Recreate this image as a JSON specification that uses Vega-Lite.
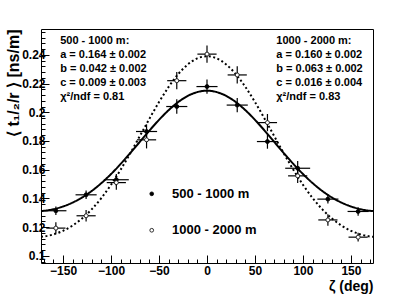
{
  "$schema": "https://vega.github.io/schema/vega-lite/v6.json",
  "width": 332,
  "height": 234,
  "autosize": {"type": "none"},
  "padding": {"left": 41, "top": 29, "right": 42, "bottom": 31},
  "background": "white",
  "config": {
    "font": "Liberation Sans",
    "view": {"stroke": "black", "strokeWidth": 1},
    "axis": {
      "grid": false, "domain": false, "tickColor": "black", "tickWidth": 1,
      "labelColor": "black", "labelFont": "Liberation Sans", "labelFontWeight": "bold", "labelFontSize": 12,
      "titleColor": "black", "titleFont": "Liberation Sans", "titleFontWeight": "bold", "titleFontSize": 14
    }
  },
  "datasets": {
    "curves": [
      {"fit": "500 - 1000 m", "zeta": -173, "val": 0.131179},
      {"fit": "500 - 1000 m", "zeta": -170, "val": 0.131367},
      {"fit": "500 - 1000 m", "zeta": -160, "val": 0.13248},
      {"fit": "500 - 1000 m", "zeta": -150, "val": 0.134377},
      {"fit": "500 - 1000 m", "zeta": -140, "val": 0.137107},
      {"fit": "500 - 1000 m", "zeta": -130, "val": 0.140722},
      {"fit": "500 - 1000 m", "zeta": -120, "val": 0.14525},
      {"fit": "500 - 1000 m", "zeta": -110, "val": 0.150688},
      {"fit": "500 - 1000 m", "zeta": -100, "val": 0.156978},
      {"fit": "500 - 1000 m", "zeta": -90, "val": 0.164},
      {"fit": "500 - 1000 m", "zeta": -80, "val": 0.171564},
      {"fit": "500 - 1000 m", "zeta": -70, "val": 0.179418},
      {"fit": "500 - 1000 m", "zeta": -60, "val": 0.18725},
      {"fit": "500 - 1000 m", "zeta": -50, "val": 0.194716},
      {"fit": "500 - 1000 m", "zeta": -40, "val": 0.201455},
      {"fit": "500 - 1000 m", "zeta": -30, "val": 0.207123},
      {"fit": "500 - 1000 m", "zeta": -20, "val": 0.211414},
      {"fit": "500 - 1000 m", "zeta": -10, "val": 0.214091},
      {"fit": "500 - 1000 m", "zeta": 0, "val": 0.215},
      {"fit": "500 - 1000 m", "zeta": 10, "val": 0.214091},
      {"fit": "500 - 1000 m", "zeta": 20, "val": 0.211414},
      {"fit": "500 - 1000 m", "zeta": 30, "val": 0.207123},
      {"fit": "500 - 1000 m", "zeta": 40, "val": 0.201455},
      {"fit": "500 - 1000 m", "zeta": 50, "val": 0.194716},
      {"fit": "500 - 1000 m", "zeta": 60, "val": 0.18725},
      {"fit": "500 - 1000 m", "zeta": 70, "val": 0.179418},
      {"fit": "500 - 1000 m", "zeta": 80, "val": 0.171564},
      {"fit": "500 - 1000 m", "zeta": 90, "val": 0.164},
      {"fit": "500 - 1000 m", "zeta": 100, "val": 0.156978},
      {"fit": "500 - 1000 m", "zeta": 110, "val": 0.150688},
      {"fit": "500 - 1000 m", "zeta": 120, "val": 0.14525},
      {"fit": "500 - 1000 m", "zeta": 130, "val": 0.140722},
      {"fit": "500 - 1000 m", "zeta": 140, "val": 0.137107},
      {"fit": "500 - 1000 m", "zeta": 150, "val": 0.134377},
      {"fit": "500 - 1000 m", "zeta": 160, "val": 0.13248},
      {"fit": "500 - 1000 m", "zeta": 170, "val": 0.131367},
      {"fit": "500 - 1000 m", "zeta": 173, "val": 0.131179},
      {"fit": "1000 - 2000 m", "zeta": -173, "val": 0.113231},
      {"fit": "1000 - 2000 m", "zeta": -170, "val": 0.113475},
      {"fit": "1000 - 2000 m", "zeta": -160, "val": 0.114928},
      {"fit": "1000 - 2000 m", "zeta": -150, "val": 0.11744},
      {"fit": "1000 - 2000 m", "zeta": -140, "val": 0.121128},
      {"fit": "1000 - 2000 m", "zeta": -130, "val": 0.126115},
      {"fit": "1000 - 2000 m", "zeta": -120, "val": 0.1325},
      {"fit": "1000 - 2000 m", "zeta": -110, "val": 0.140325},
      {"fit": "1000 - 2000 m", "zeta": -100, "val": 0.149542},
      {"fit": "1000 - 2000 m", "zeta": -90, "val": 0.16},
      {"fit": "1000 - 2000 m", "zeta": -80, "val": 0.171422},
      {"fit": "1000 - 2000 m", "zeta": -70, "val": 0.183419},
      {"fit": "1000 - 2000 m", "zeta": -60, "val": 0.1955},
      {"fit": "1000 - 2000 m", "zeta": -50, "val": 0.207107},
      {"fit": "1000 - 2000 m", "zeta": -40, "val": 0.21765},
      {"fit": "1000 - 2000 m", "zeta": -30, "val": 0.22656},
      {"fit": "1000 - 2000 m", "zeta": -20, "val": 0.233328},
      {"fit": "1000 - 2000 m", "zeta": -10, "val": 0.237561},
      {"fit": "1000 - 2000 m", "zeta": 0, "val": 0.239},
      {"fit": "1000 - 2000 m", "zeta": 10, "val": 0.237561},
      {"fit": "1000 - 2000 m", "zeta": 20, "val": 0.233328},
      {"fit": "1000 - 2000 m", "zeta": 30, "val": 0.22656},
      {"fit": "1000 - 2000 m", "zeta": 40, "val": 0.21765},
      {"fit": "1000 - 2000 m", "zeta": 50, "val": 0.207107},
      {"fit": "1000 - 2000 m", "zeta": 60, "val": 0.1955},
      {"fit": "1000 - 2000 m", "zeta": 70, "val": 0.183419},
      {"fit": "1000 - 2000 m", "zeta": 80, "val": 0.171422},
      {"fit": "1000 - 2000 m", "zeta": 90, "val": 0.16},
      {"fit": "1000 - 2000 m", "zeta": 100, "val": 0.149542},
      {"fit": "1000 - 2000 m", "zeta": 110, "val": 0.140325},
      {"fit": "1000 - 2000 m", "zeta": 120, "val": 0.1325},
      {"fit": "1000 - 2000 m", "zeta": 130, "val": 0.126115},
      {"fit": "1000 - 2000 m", "zeta": 140, "val": 0.121128},
      {"fit": "1000 - 2000 m", "zeta": 150, "val": 0.11744},
      {"fit": "1000 - 2000 m", "zeta": 160, "val": 0.114928},
      {"fit": "1000 - 2000 m", "zeta": 170, "val": 0.113475},
      {"fit": "1000 - 2000 m", "zeta": 173, "val": 0.113231}
    ],
    "points": [
      {"series": "500 - 1000 m", "zeta": -157.5, "val": 0.1314, "ex": 11, "ey": 0.003},
      {"series": "500 - 1000 m", "zeta": -126, "val": 0.1425, "ex": 11, "ey": 0.003},
      {"series": "500 - 1000 m", "zeta": -94.5, "val": 0.153, "ex": 13, "ey": 0.004},
      {"series": "500 - 1000 m", "zeta": -63, "val": 0.1866, "ex": 11, "ey": 0.005},
      {"series": "500 - 1000 m", "zeta": -31.5, "val": 0.204, "ex": 11, "ey": 0.005},
      {"series": "500 - 1000 m", "zeta": 0, "val": 0.2179, "ex": 11, "ey": 0.005},
      {"series": "500 - 1000 m", "zeta": 31.5, "val": 0.205, "ex": 11, "ey": 0.005},
      {"series": "500 - 1000 m", "zeta": 63, "val": 0.1796, "ex": 11, "ey": 0.005},
      {"series": "500 - 1000 m", "zeta": 94.5, "val": 0.161, "ex": 13, "ey": 0.005},
      {"series": "500 - 1000 m", "zeta": 126, "val": 0.1395, "ex": 11, "ey": 0.003},
      {"series": "500 - 1000 m", "zeta": 157.5, "val": 0.1309, "ex": 11, "ey": 0.003},
      {"series": "1000 - 2000 m", "zeta": -157.5, "val": 0.1193, "ex": 10, "ey": 0.004},
      {"series": "1000 - 2000 m", "zeta": -126, "val": 0.1279, "ex": 10, "ey": 0.004},
      {"series": "1000 - 2000 m", "zeta": -94.5, "val": 0.151, "ex": 10, "ey": 0.005},
      {"series": "1000 - 2000 m", "zeta": -63, "val": 0.1808, "ex": 10, "ey": 0.006},
      {"series": "1000 - 2000 m", "zeta": -31.5, "val": 0.222, "ex": 10, "ey": 0.006},
      {"series": "1000 - 2000 m", "zeta": 0, "val": 0.2405, "ex": 10, "ey": 0.006},
      {"series": "1000 - 2000 m", "zeta": 31.5, "val": 0.226, "ex": 10, "ey": 0.006},
      {"series": "1000 - 2000 m", "zeta": 63, "val": 0.1928, "ex": 10, "ey": 0.006},
      {"series": "1000 - 2000 m", "zeta": 94.5, "val": 0.1557, "ex": 10, "ey": 0.005},
      {"series": "1000 - 2000 m", "zeta": 126, "val": 0.125, "ex": 10, "ey": 0.004},
      {"series": "1000 - 2000 m", "zeta": 157.5, "val": 0.113, "ex": 10, "ey": 0.003}
    ],
    "key": [
      {"series": "500 - 1000 m", "zeta": -57.6, "val": 0.1432, "label": "500 - 1000 m", "lx": -36.5},
      {"series": "1000 - 2000 m", "zeta": -57.6, "val": 0.1178, "label": "1000 - 2000 m", "lx": -36.5}
    ],
    "notes": [
      {"label": "500 - 1000 m:", "zeta": -153, "val": 0.2497},
      {"label": "a = 0.164 ± 0.002", "zeta": -153, "val": 0.24},
      {"label": "b = 0.042 ± 0.002", "zeta": -153, "val": 0.2300},
      {"label": "c = 0.009 ± 0.003", "zeta": -153, "val": 0.2203},
      {"label": "χ²/ndf = 0.81", "zeta": -153, "val": 0.2109},
      {"label": "1000 - 2000 m:", "zeta": 72.2, "val": 0.2497},
      {"label": "a = 0.160 ± 0.002", "zeta": 72.2, "val": 0.24},
      {"label": "b = 0.063 ± 0.002", "zeta": 72.2, "val": 0.2300},
      {"label": "c = 0.016 ± 0.004", "zeta": 72.2, "val": 0.2203},
      {"label": "χ²/ndf = 0.83", "zeta": 72.2, "val": 0.2109}
    ]
  },
  "encoding": {
    "x": {
      "field": "zeta", "type": "quantitative",
      "scale": {"domain": [-173, 173], "nice": false, "zero": false},
      "axis": {
        "title": "ζ (deg)",
        "values": [-170,-160,-150,-140,-130,-120,-110,-100,-90,-80,-70,-60,-50,-40,-30,-20,-10,0,10,20,30,40,50,60,70,80,90,100,110,120,130,140,150,160,170],
        "tickSize": {"condition": {"test": "datum.value % 50 === 0", "value": -8}, "value": -4},
        "labelExpr": "datum.value % 50 === 0 ? datum.label : ''",
        "labelPadding": 10,
        "labelFlush": false,
        "titleAnchor": "end", "titleAlign": "right", "titleX": 332, "titleY": 23, "titleBaseline": "middle"
      }
    },
    "y": {
      "field": "val", "type": "quantitative",
      "scale": {"domain": [0.095, 0.258], "nice": false, "zero": false},
      "axis": {
        "title": "⟨ t₁/₂/r ⟩ [ns/m]",
        "format": ".3~f",
        "values": [0.096,0.1,0.104,0.108,0.112,0.116,0.12,0.124,0.128,0.132,0.136,0.14,0.144,0.148,0.152,0.156,0.16,0.164,0.168,0.172,0.176,0.18,0.184,0.188,0.192,0.196,0.2,0.204,0.208,0.212,0.216,0.22,0.224,0.228,0.232,0.236,0.24,0.244,0.248,0.252,0.256],
        "tickSize": {"condition": {"test": "abs(datum.value*50 - round(datum.value*50)) < 0.001", "value": -8}, "value": -4},
        "labelExpr": "abs(datum.value*50 - round(datum.value*50)) < 0.001 ? datum.label : ''",
        "labelPadding": 4,
        "labelFlush": false,
        "titleFontSize": 16,
        "titleAnchor": "end", "titleAngle": -90, "titleAlign": "right", "titleX": -28, "titleY": 0, "titleBaseline": "middle"
      }
    }
  },
  "layer": [
    {
      "data": {"name": "curves"},
      "mark": {"type": "line", "color": "black", "strokeWidth": 2, "interpolate": "monotone"},
      "encoding": {
        "detail": {"field": "fit"},
        "strokeDash": {"field": "fit", "type": "nominal", "scale": {"domain": ["500 - 1000 m", "1000 - 2000 m"], "range": [[1, 0], [2, 2.5]]}, "legend": null}
      }
    },
    {
      "data": {"name": "points"},
      "mark": {"type": "errorbar", "color": "black", "rule": {"strokeWidth": 1.2}},
      "encoding": {"xError": {"field": "ex"}}
    },
    {
      "data": {"name": "points"},
      "mark": {"type": "errorbar", "color": "black", "rule": {"strokeWidth": 1.2}},
      "encoding": {"yError": {"field": "ey"}}
    },
    {
      "data": {"name": "points"},
      "mark": {"type": "point", "filled": true, "stroke": "black", "strokeWidth": 0.8, "size": 16, "opacity": 1},
      "encoding": {
        "fill": {
          "field": "series", "type": "nominal",
          "scale": {"domain": ["500 - 1000 m", "1000 - 2000 m"], "range": ["black", "white"]},
          "legend": null
        }
      }
    },
    {
      "data": {"name": "key"},
      "mark": {"type": "point", "filled": true, "stroke": "black", "strokeWidth": 0.8, "size": 14, "opacity": 1},
      "encoding": {
        "fill": {"field": "series", "type": "nominal", "legend": null}
      }
    },
    {
      "data": {"name": "key"},
      "mark": {"type": "text", "align": "left", "baseline": "middle", "font": "Liberation Sans", "fontWeight": "bold", "fontSize": 13, "color": "black"},
      "encoding": {
        "x": {"field": "lx", "type": "quantitative"},
        "text": {"field": "label"}
      }
    },
    {
      "data": {"name": "notes"},
      "mark": {"type": "text", "align": "left", "baseline": "middle", "font": "Liberation Sans", "fontWeight": "bold", "fontSize": 11, "color": "black"},
      "encoding": {"text": {"field": "label"}}
    }
  ]
}
